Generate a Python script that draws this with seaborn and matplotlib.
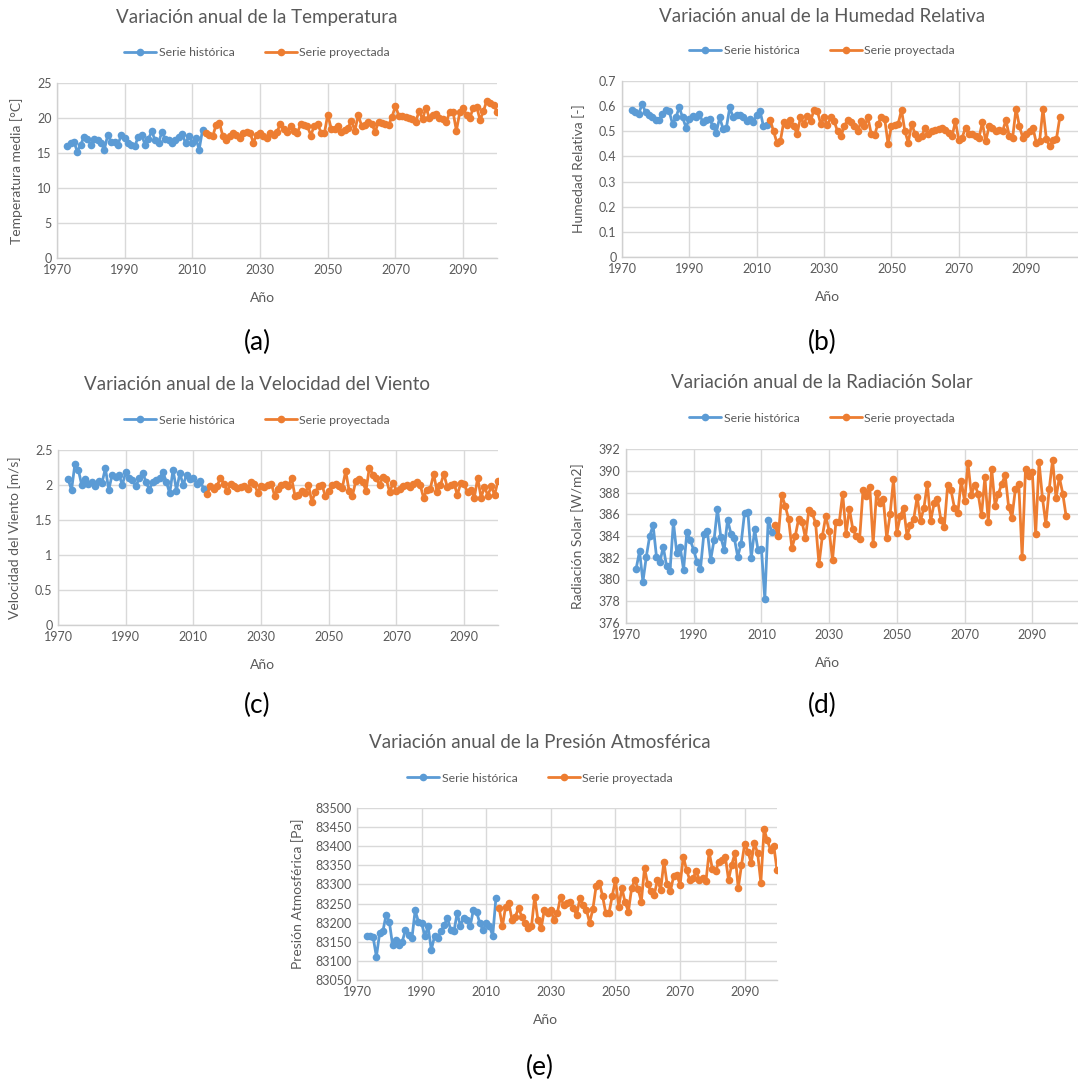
import numpy as np
import pandas as pd
import matplotlib
matplotlib.use("Agg")
import matplotlib.pyplot as plt
import seaborn as sns
from matplotlib.ticker import FuncFormatter

# años de cada serie
anios_hist = np.arange(1973, 2014)   # 41 años
anios_proy = np.arange(2014, 2101)   # 87 años

# (a) temperatura media [°C]
temp_hist = [16.0, 16.4, 16.6, 15.2, 16.2, 17.3, 17.0, 16.2, 17.0, 16.8,
             16.4, 15.5, 17.6, 16.6, 16.6, 16.2, 17.6, 17.1, 16.5, 16.1,
             16.0, 17.3, 17.6, 16.2, 17.0, 18.1, 16.8, 16.5, 18.0, 17.0,
             16.8, 16.4, 16.8, 17.3, 17.7, 16.4, 17.4, 16.5, 17.1, 15.5,
             18.3]
temp_proy = [17.8, 17.6, 17.4, 19.0, 19.3, 17.4, 16.9, 17.5, 17.8, 17.6,
             17.2, 17.8, 18.0, 17.9, 16.5, 17.6, 17.9, 17.5, 17.1, 17.8,
             17.6, 18.0, 19.2, 18.4, 18.0, 18.8, 18.2, 17.9, 19.1, 19.0,
             18.8, 17.5, 18.9, 19.2, 17.9, 17.8, 20.5, 18.5, 18.4, 18.9,
             18.0, 18.3, 18.6, 19.6, 18.2, 20.4, 18.9, 19.0, 19.4, 19.2,
             18.0, 19.5, 19.3, 19.2, 19.0, 20.2, 21.7, 20.3, 20.3, 20.1,
             20.0, 19.8, 19.5, 21.0, 19.8, 21.5, 20.0, 20.4, 20.6, 20.0,
             19.8, 19.4, 20.8, 20.9, 18.2, 20.8, 21.5, 20.4, 20.0, 21.5,
             21.6, 19.7, 21.0, 22.5, 22.2, 21.9, 20.9]

# (b) humedad relativa [-]
hum_hist = [0.585, 0.575, 0.57, 0.61, 0.575, 0.565, 0.555, 0.545, 0.545, 0.57,
            0.585, 0.58, 0.53, 0.555, 0.595, 0.555, 0.515, 0.55, 0.56, 0.555,
            0.57, 0.535, 0.545, 0.55, 0.52, 0.495, 0.555, 0.51, 0.515, 0.595,
            0.555, 0.565, 0.565, 0.555, 0.54, 0.55, 0.535, 0.565, 0.58, 0.52,
            0.525]
hum_proy = [0.545, 0.50, 0.455, 0.46, 0.535, 0.525, 0.545, 0.52, 0.49, 0.555,
            0.53, 0.56, 0.54, 0.585, 0.58, 0.53, 0.555, 0.525, 0.555, 0.54,
            0.50, 0.48, 0.52, 0.545, 0.535, 0.52, 0.50, 0.54, 0.52, 0.555,
            0.49, 0.485, 0.53, 0.555, 0.55, 0.45, 0.52, 0.525, 0.53, 0.585,
            0.50, 0.455, 0.53, 0.49, 0.475, 0.48, 0.515, 0.49, 0.50, 0.505,
            0.51, 0.515, 0.505, 0.495, 0.48, 0.54, 0.465, 0.475, 0.515, 0.49,
            0.49, 0.48, 0.475, 0.535, 0.46, 0.52, 0.515, 0.50, 0.505, 0.50,
            0.545, 0.48, 0.475, 0.59, 0.52, 0.475, 0.49, 0.50, 0.515, 0.455,
            0.46, 0.59, 0.47, 0.44, 0.465, 0.47, 0.555]

# (c) velocidad del viento [m/s]
viento_hist = [2.08, 1.93, 2.30, 2.22, 2.00, 2.08, 2.02, 2.05, 1.98, 2.06,
               2.03, 2.24, 1.93, 2.15, 2.12, 2.15, 2.00, 2.18, 2.10, 2.07,
               1.98, 2.10, 2.17, 2.05, 1.93, 2.05, 2.07, 2.10, 2.18, 2.05,
               1.88, 2.22, 1.92, 2.17, 2.00, 2.15, 2.08, 2.10, 2.02, 2.06,
               1.95]
viento_proy = [1.87, 1.98, 1.95, 1.99, 2.10, 2.02, 1.91, 2.02, 1.98, 1.96,
               1.97, 1.98, 1.94, 2.04, 2.02, 1.89, 1.99, 1.97, 2.00, 2.02,
               1.85, 1.95, 2.00, 2.02, 1.98, 2.10, 1.85, 1.86, 1.92, 1.88,
               2.00, 1.76, 1.90, 1.98, 2.00, 1.84, 1.92, 2.00, 2.02, 1.98,
               1.96, 2.20, 1.92, 1.85, 2.06, 2.08, 2.05, 1.92, 2.25, 2.15,
               2.10, 2.00, 2.12, 2.08, 1.90, 2.03, 1.92, 1.95, 1.98, 2.00,
               1.97, 2.02, 2.04, 2.00, 1.82, 1.93, 1.95, 2.16, 1.90, 2.00,
               2.16, 1.97, 2.00, 2.02, 1.86, 2.03, 2.01, 1.90, 1.93, 1.82,
               2.10, 1.82, 1.97, 1.85, 1.98, 1.86, 2.06]

# (d) radiación solar [W/m2]
rad_hist = [381.0, 382.6, 379.8, 382.1, 384.0, 385.0, 382.1, 381.6, 383.0, 381.2,
            380.8, 385.3, 382.4, 383.0, 380.9, 384.4, 383.6, 382.7, 381.6, 381.0,
            384.2, 384.5, 381.8, 383.6, 386.5, 383.9, 382.7, 385.5, 384.2, 383.8,
            382.1, 383.3, 386.1, 386.2, 382.0, 384.6, 382.7, 382.8, 378.2, 385.5,
            384.4]
rad_proy = [385.0, 384.0, 387.8, 386.8, 385.6, 382.9, 384.0, 385.6, 385.3, 383.8,
            386.4, 386.1, 385.2, 381.4, 384.0, 385.8, 384.5, 381.8,
            385.3, 385.3, 387.9, 384.2, 386.5, 384.6, 384.0, 383.7, 388.2, 387.7,
            388.5, 383.3, 388.0, 387.0, 387.4, 383.8, 386.0, 389.2, 384.3, 385.8,
            386.6, 384.0, 385.0, 385.6, 387.6, 385.4, 386.6, 388.8, 385.4, 387.0,
            387.4, 385.5, 384.8, 388.7, 388.2, 386.6, 386.1, 389.1, 387.2, 390.7,
            387.8, 388.7, 387.9, 385.9, 389.4, 385.3, 390.2, 386.8, 387.9, 388.8,
            389.6, 386.7, 385.7, 388.3, 388.8, 382.1, 390.2, 389.5, 389.9, 384.2,
            390.8, 387.5, 385.1, 388.3, 391.0, 387.5, 389.4, 387.9, 385.8]

# (e) presión atmosférica [Pa]
pres_hist = [83166, 83165, 83162, 83111, 83172, 83177, 83220, 83203, 83142, 83155,
             83142, 83150, 83181, 83168, 83159, 83232, 83203, 83199, 83165, 83190,
             83129, 83164, 83159, 83177, 83194, 83212, 83181, 83177, 83225, 83192,
             83212, 83207, 83190, 83232, 83229, 83199, 83181, 83199, 83192, 83165,
             83264]
pres_proy = [83238, 83190, 83242, 83251, 83207, 83216, 83238, 83216, 83199, 83185,
             83190, 83268, 83207, 83185, 83234, 83225,
             83234, 83207, 83225, 83267, 83245, 83251, 83255, 83238, 83220, 83264,
             83247, 83234, 83200, 83235, 83295, 83305, 83270, 83225, 83225, 83270,
             83312, 83242, 83290, 83253, 83229, 83290, 83312, 83288, 83255, 83343,
             83300, 83282, 83273, 83312, 83286, 83360, 83300, 83282, 83321, 83325,
             83299, 83373, 83338, 83312, 83317, 83334, 83312, 83317, 83308, 83385,
             83340, 83334, 83360, 83365, 83373, 83312, 83352, 83382, 83290, 83350,
             83407, 83386, 83356, 83408, 83382, 83305, 83445, 83415, 83391, 83401,
             83338]

titulos = ["Variación anual de la Temperatura",
           "Variación anual de la Humedad Relativa",
           "Variación anual de la Velocidad del Viento",
           "Variación anual de la Radiación Solar",
           "Variación anual de la Presión Atmosférica"]
etiquetas_y = ["Temperatura media [°C]", "Humedad Relativa [-]",
               "Velocidad del Viento [m/s]", "Radiación Solar [W/m2]",
               "Presión Atmosférica [Pa]"]
letras = ["(a)", "(b)", "(c)", "(d)", "(e)"]

AZUL = "#5B9BD5"
NARANJA = "#ED7D31"
GRIS = "#595959"

sns.set_theme(style="whitegrid")
plt.rcParams['font.family'] = ['Lato', 'DejaVu Sans']

W, H = 1078, 1080
fig = plt.figure(figsize=(W / 100, H / 100), dpi=100)

# posiciones en pixeles: izquierda, derecha, arriba, abajo
cajas = [(57, 497, 83, 258), (622, 1078, 81, 257), (58, 498, 450, 625),
         (626, 1078, 449, 623), (357, 777, 808, 980)]
xmax = [2100, 2105.4, 2100, 2103.5, 2100]
ylims = [(0, 25), (0, 0.7), (0, 2.5), (376, 392), (83050, 83500)]
ypasos = [5, 0.1, 0.5, 2, 50]
# centros (x) y alturas (y) de los textos, en pixeles
cx = [257, 822, 257, 822, 540]
y_tit = [18, 16, 385, 383, 743]
y_ley = [53, 51, 420, 418, 778]
y_xlab = [298, 297, 665, 663, 1020]
x_ylab = [17, 579, 15, 578, 298]
y_letra = [342, 342, 705, 705, 1067]

series = [(temp_hist, temp_proy), (hum_hist, hum_proy), (viento_hist, viento_proy),
          (rad_hist, rad_proy), (pres_hist, pres_proy)]

for k in range(5):
    l, r, t, b = cajas[k]
    ax = fig.add_axes([l / W, 1 - b / H, (r - l) / W, (b - t) / H])
    hist, proy = series[k]
    df_h = pd.DataFrame({"Año": anios_hist, "valor": hist})
    df_p = pd.DataFrame({"Año": anios_proy, "valor": proy})
    sns.lineplot(data=df_h, x="Año", y="valor", ax=ax, color=AZUL, marker="o",
                 markersize=5.5, markeredgewidth=0, linewidth=2.0, label="Serie histórica")
    sns.lineplot(data=df_p, x="Año", y="valor", ax=ax, color=NARANJA, marker="o",
                 markersize=5.5, markeredgewidth=0, linewidth=2.0, label="Serie proyectada")
    ax.set_xlim(1970, xmax[k])
    ax.set_ylim(*ylims[k])
    ax.set_xticks(np.arange(1970, 2091, 20))
    ax.set_yticks(np.arange(ylims[k][0], ylims[k][1] + ypasos[k] / 2, ypasos[k]))
    if k == 4:
        ax.yaxis.set_major_formatter(FuncFormatter(lambda v, p: f"{v:.0f}"))
    else:
        ax.yaxis.set_major_formatter(FuncFormatter(lambda v, p: f"{round(v, 2):g}"))
    ax.grid(True, color="#D9D9D9", linewidth=1.0)
    for lado in ["top", "right"]:
        ax.spines[lado].set_visible(False)
    for lado in ["left", "bottom"]:
        ax.spines[lado].set_color("#D0D0D0")
        ax.spines[lado].set_linewidth(1.0)
    ax.tick_params(length=0, labelsize=9, labelcolor=GRIS, pad=4)
    ax.set_xlabel("")
    ax.set_ylabel("")
    ax.legend_.remove()

    fig.text(cx[k] / W, 1 - y_tit[k] / H, titulos[k], ha="center", va="center",
             fontsize=13.5, color=GRIS)
    fig.text(cx[k] / W + 0.005, 1 - y_xlab[k] / H, "Año", ha="center", va="center",
             fontsize=10, color=GRIS)
    fig.text(x_ylab[k] / W, 1 - ((t + b) / 2) / H, etiquetas_y[k], ha="center",
             va="center", rotation=90, fontsize=10, color=GRIS)
    fig.text(cx[k] / W, 1 - y_letra[k] / H, letras[k], ha="center", va="center",
             fontsize=19, color="black")
    handles, labels = ax.get_legend_handles_labels()
    fig.legend(handles, labels, loc="center", bbox_to_anchor=(cx[k] / W, 1 - y_ley[k] / H),
               ncol=2, frameon=False, fontsize=8.8, labelcolor=GRIS, handlelength=2.6,
               handletextpad=0.2, columnspacing=2.5, borderpad=0)

fig.savefig("out.png", dpi=100, facecolor="white")
